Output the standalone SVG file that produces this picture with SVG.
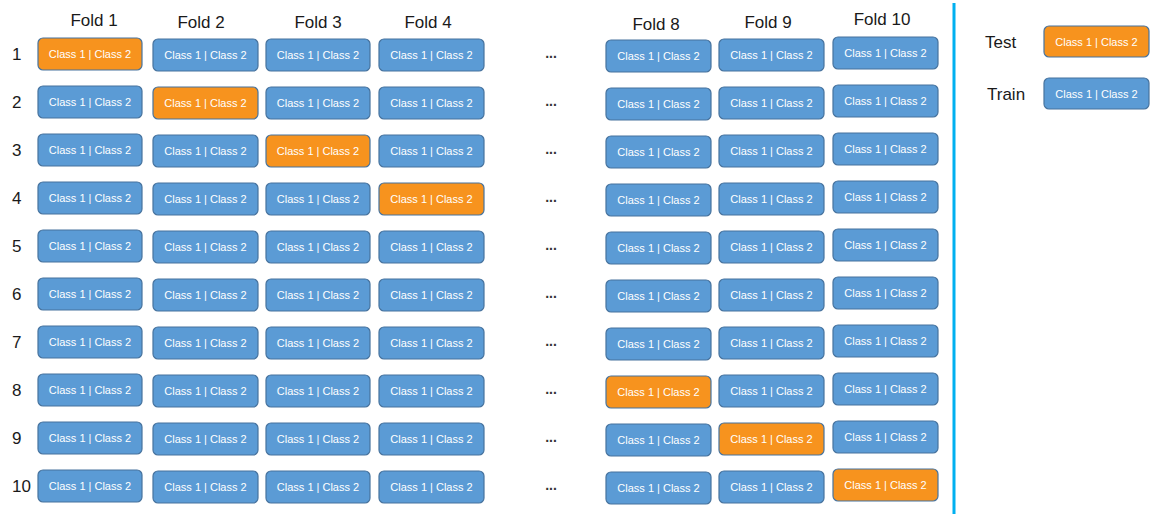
<svg xmlns="http://www.w3.org/2000/svg" width="1150" height="514" viewBox="0 0 1150 514">
  <style>
    .lbl { font-family: "Liberation Sans", Arial, sans-serif; font-size: 17px; fill: #1a1a1a; }
    .hdr { text-anchor: middle; }
    .dots { font-family: "Liberation Sans", Arial, sans-serif; font-size: 14px; font-weight: bold; fill: #333; text-anchor: middle; }
    .box rect { fill: #5B9BD5; stroke: #47739E; stroke-width: 1.2; }
    .box.test rect { fill: #F7931E; }
    .box text { font-family: "Liberation Sans", Arial, sans-serif; font-size: 11px; fill: #ffffff; text-anchor: middle; }
  </style>

  <!-- fold headers -->
  <g id="headers" class="lbl hdr">
    <text x="94" y="26">Fold 1</text>
    <text x="201" y="28">Fold 2</text>
    <text x="318" y="28">Fold 3</text>
    <text x="428" y="28">Fold 4</text>
    <text x="656" y="30">Fold 8</text>
    <text x="768" y="28">Fold 9</text>
    <text x="882" y="25">Fold 10</text>
  </g>

  <!-- iteration numbers -->
  <g id="rows" class="lbl">
    <text x="12" y="60">1</text>
    <text x="12" y="108">2</text>
    <text x="12" y="156">3</text>
    <text x="12" y="204">4</text>
    <text x="12" y="252">5</text>
    <text x="12" y="300">6</text>
    <text x="12" y="348">7</text>
    <text x="12" y="396">8</text>
    <text x="12" y="444">9</text>
    <text x="12" y="492">10</text>
  </g>

  <!-- elided folds 5-7 -->
  <g id="ellipsis" class="dots">
    <text x="551" y="58">...</text>
    <text x="551" y="106">...</text>
    <text x="551" y="154">...</text>
    <text x="551" y="202">...</text>
    <text x="551" y="250">...</text>
    <text x="551" y="298">...</text>
    <text x="551" y="346">...</text>
    <text x="551" y="394">...</text>
    <text x="551" y="442">...</text>
    <text x="551" y="490">...</text>
  </g>

  <!-- row 1 -->
  <g id="r1f1" class="box test" transform="translate(38,38)"><rect width="104" height="32" rx="5"/><text x="52" y="20">Class 1 | Class 2</text></g>
  <g id="r1f2" class="box" transform="translate(153,39)"><rect width="105" height="32" rx="5"/><text x="52.5" y="20">Class 1 | Class 2</text></g>
  <g id="r1f3" class="box" transform="translate(266,39)"><rect width="104" height="32" rx="5"/><text x="52" y="20">Class 1 | Class 2</text></g>
  <g id="r1f4" class="box" transform="translate(379,39)"><rect width="105" height="32" rx="5"/><text x="52.5" y="20">Class 1 | Class 2</text></g>
  <g id="r1f8" class="box" transform="translate(606,40)"><rect width="105" height="32" rx="5"/><text x="52.5" y="20">Class 1 | Class 2</text></g>
  <g id="r1f9" class="box" transform="translate(719,39)"><rect width="105" height="32" rx="5"/><text x="52.5" y="20">Class 1 | Class 2</text></g>
  <g id="r1f10" class="box" transform="translate(833,37)"><rect width="105" height="32" rx="5"/><text x="52.5" y="20">Class 1 | Class 2</text></g>

  <!-- row 2 -->
  <g id="r2f1" class="box" transform="translate(38,86)"><rect width="104" height="32" rx="5"/><text x="52" y="20">Class 1 | Class 2</text></g>
  <g id="r2f2" class="box test" transform="translate(153,87)"><rect width="105" height="32" rx="5"/><text x="52.5" y="20">Class 1 | Class 2</text></g>
  <g id="r2f3" class="box" transform="translate(266,87)"><rect width="104" height="32" rx="5"/><text x="52" y="20">Class 1 | Class 2</text></g>
  <g id="r2f4" class="box" transform="translate(379,87)"><rect width="105" height="32" rx="5"/><text x="52.5" y="20">Class 1 | Class 2</text></g>
  <g id="r2f8" class="box" transform="translate(606,88)"><rect width="105" height="32" rx="5"/><text x="52.5" y="20">Class 1 | Class 2</text></g>
  <g id="r2f9" class="box" transform="translate(719,87)"><rect width="105" height="32" rx="5"/><text x="52.5" y="20">Class 1 | Class 2</text></g>
  <g id="r2f10" class="box" transform="translate(833,85)"><rect width="105" height="32" rx="5"/><text x="52.5" y="20">Class 1 | Class 2</text></g>

  <!-- row 3 -->
  <g id="r3f1" class="box" transform="translate(38,134)"><rect width="104" height="32" rx="5"/><text x="52" y="20">Class 1 | Class 2</text></g>
  <g id="r3f2" class="box" transform="translate(153,135)"><rect width="105" height="32" rx="5"/><text x="52.5" y="20">Class 1 | Class 2</text></g>
  <g id="r3f3" class="box test" transform="translate(266,135)"><rect width="104" height="32" rx="5"/><text x="52" y="20">Class 1 | Class 2</text></g>
  <g id="r3f4" class="box" transform="translate(379,135)"><rect width="105" height="32" rx="5"/><text x="52.5" y="20">Class 1 | Class 2</text></g>
  <g id="r3f8" class="box" transform="translate(606,136)"><rect width="105" height="32" rx="5"/><text x="52.5" y="20">Class 1 | Class 2</text></g>
  <g id="r3f9" class="box" transform="translate(719,135)"><rect width="105" height="32" rx="5"/><text x="52.5" y="20">Class 1 | Class 2</text></g>
  <g id="r3f10" class="box" transform="translate(833,133)"><rect width="105" height="32" rx="5"/><text x="52.5" y="20">Class 1 | Class 2</text></g>

  <!-- row 4 -->
  <g id="r4f1" class="box" transform="translate(38,182)"><rect width="104" height="32" rx="5"/><text x="52" y="20">Class 1 | Class 2</text></g>
  <g id="r4f2" class="box" transform="translate(153,183)"><rect width="105" height="32" rx="5"/><text x="52.5" y="20">Class 1 | Class 2</text></g>
  <g id="r4f3" class="box" transform="translate(266,183)"><rect width="104" height="32" rx="5"/><text x="52" y="20">Class 1 | Class 2</text></g>
  <g id="r4f4" class="box test" transform="translate(379,183)"><rect width="105" height="32" rx="5"/><text x="52.5" y="20">Class 1 | Class 2</text></g>
  <g id="r4f8" class="box" transform="translate(606,184)"><rect width="105" height="32" rx="5"/><text x="52.5" y="20">Class 1 | Class 2</text></g>
  <g id="r4f9" class="box" transform="translate(719,183)"><rect width="105" height="32" rx="5"/><text x="52.5" y="20">Class 1 | Class 2</text></g>
  <g id="r4f10" class="box" transform="translate(833,181)"><rect width="105" height="32" rx="5"/><text x="52.5" y="20">Class 1 | Class 2</text></g>

  <!-- row 5 -->
  <g id="r5f1" class="box" transform="translate(38,230)"><rect width="104" height="32" rx="5"/><text x="52" y="20">Class 1 | Class 2</text></g>
  <g id="r5f2" class="box" transform="translate(153,231)"><rect width="105" height="32" rx="5"/><text x="52.5" y="20">Class 1 | Class 2</text></g>
  <g id="r5f3" class="box" transform="translate(266,231)"><rect width="104" height="32" rx="5"/><text x="52" y="20">Class 1 | Class 2</text></g>
  <g id="r5f4" class="box" transform="translate(379,231)"><rect width="105" height="32" rx="5"/><text x="52.5" y="20">Class 1 | Class 2</text></g>
  <g id="r5f8" class="box" transform="translate(606,232)"><rect width="105" height="32" rx="5"/><text x="52.5" y="20">Class 1 | Class 2</text></g>
  <g id="r5f9" class="box" transform="translate(719,231)"><rect width="105" height="32" rx="5"/><text x="52.5" y="20">Class 1 | Class 2</text></g>
  <g id="r5f10" class="box" transform="translate(833,229)"><rect width="105" height="32" rx="5"/><text x="52.5" y="20">Class 1 | Class 2</text></g>

  <!-- row 6 -->
  <g id="r6f1" class="box" transform="translate(38,278)"><rect width="104" height="32" rx="5"/><text x="52" y="20">Class 1 | Class 2</text></g>
  <g id="r6f2" class="box" transform="translate(153,279)"><rect width="105" height="32" rx="5"/><text x="52.5" y="20">Class 1 | Class 2</text></g>
  <g id="r6f3" class="box" transform="translate(266,279)"><rect width="104" height="32" rx="5"/><text x="52" y="20">Class 1 | Class 2</text></g>
  <g id="r6f4" class="box" transform="translate(379,279)"><rect width="105" height="32" rx="5"/><text x="52.5" y="20">Class 1 | Class 2</text></g>
  <g id="r6f8" class="box" transform="translate(606,280)"><rect width="105" height="32" rx="5"/><text x="52.5" y="20">Class 1 | Class 2</text></g>
  <g id="r6f9" class="box" transform="translate(719,279)"><rect width="105" height="32" rx="5"/><text x="52.5" y="20">Class 1 | Class 2</text></g>
  <g id="r6f10" class="box" transform="translate(833,277)"><rect width="105" height="32" rx="5"/><text x="52.5" y="20">Class 1 | Class 2</text></g>

  <!-- row 7 -->
  <g id="r7f1" class="box" transform="translate(38,326)"><rect width="104" height="32" rx="5"/><text x="52" y="20">Class 1 | Class 2</text></g>
  <g id="r7f2" class="box" transform="translate(153,327)"><rect width="105" height="32" rx="5"/><text x="52.5" y="20">Class 1 | Class 2</text></g>
  <g id="r7f3" class="box" transform="translate(266,327)"><rect width="104" height="32" rx="5"/><text x="52" y="20">Class 1 | Class 2</text></g>
  <g id="r7f4" class="box" transform="translate(379,327)"><rect width="105" height="32" rx="5"/><text x="52.5" y="20">Class 1 | Class 2</text></g>
  <g id="r7f8" class="box" transform="translate(606,328)"><rect width="105" height="32" rx="5"/><text x="52.5" y="20">Class 1 | Class 2</text></g>
  <g id="r7f9" class="box" transform="translate(719,327)"><rect width="105" height="32" rx="5"/><text x="52.5" y="20">Class 1 | Class 2</text></g>
  <g id="r7f10" class="box" transform="translate(833,325)"><rect width="105" height="32" rx="5"/><text x="52.5" y="20">Class 1 | Class 2</text></g>

  <!-- row 8 -->
  <g id="r8f1" class="box" transform="translate(38,374)"><rect width="104" height="32" rx="5"/><text x="52" y="20">Class 1 | Class 2</text></g>
  <g id="r8f2" class="box" transform="translate(153,375)"><rect width="105" height="32" rx="5"/><text x="52.5" y="20">Class 1 | Class 2</text></g>
  <g id="r8f3" class="box" transform="translate(266,375)"><rect width="104" height="32" rx="5"/><text x="52" y="20">Class 1 | Class 2</text></g>
  <g id="r8f4" class="box" transform="translate(379,375)"><rect width="105" height="32" rx="5"/><text x="52.5" y="20">Class 1 | Class 2</text></g>
  <g id="r8f8" class="box test" transform="translate(606,376)"><rect width="105" height="32" rx="5"/><text x="52.5" y="20">Class 1 | Class 2</text></g>
  <g id="r8f9" class="box" transform="translate(719,375)"><rect width="105" height="32" rx="5"/><text x="52.5" y="20">Class 1 | Class 2</text></g>
  <g id="r8f10" class="box" transform="translate(833,373)"><rect width="105" height="32" rx="5"/><text x="52.5" y="20">Class 1 | Class 2</text></g>

  <!-- row 9 -->
  <g id="r9f1" class="box" transform="translate(38,422)"><rect width="104" height="32" rx="5"/><text x="52" y="20">Class 1 | Class 2</text></g>
  <g id="r9f2" class="box" transform="translate(153,423)"><rect width="105" height="32" rx="5"/><text x="52.5" y="20">Class 1 | Class 2</text></g>
  <g id="r9f3" class="box" transform="translate(266,423)"><rect width="104" height="32" rx="5"/><text x="52" y="20">Class 1 | Class 2</text></g>
  <g id="r9f4" class="box" transform="translate(379,423)"><rect width="105" height="32" rx="5"/><text x="52.5" y="20">Class 1 | Class 2</text></g>
  <g id="r9f8" class="box" transform="translate(606,424)"><rect width="105" height="32" rx="5"/><text x="52.5" y="20">Class 1 | Class 2</text></g>
  <g id="r9f9" class="box test" transform="translate(719,423)"><rect width="105" height="32" rx="5"/><text x="52.5" y="20">Class 1 | Class 2</text></g>
  <g id="r9f10" class="box" transform="translate(833,421)"><rect width="105" height="32" rx="5"/><text x="52.5" y="20">Class 1 | Class 2</text></g>

  <!-- row 10 -->
  <g id="r10f1" class="box" transform="translate(38,470)"><rect width="104" height="32" rx="5"/><text x="52" y="20">Class 1 | Class 2</text></g>
  <g id="r10f2" class="box" transform="translate(153,471)"><rect width="105" height="32" rx="5"/><text x="52.5" y="20">Class 1 | Class 2</text></g>
  <g id="r10f3" class="box" transform="translate(266,471)"><rect width="104" height="32" rx="5"/><text x="52" y="20">Class 1 | Class 2</text></g>
  <g id="r10f4" class="box" transform="translate(379,471)"><rect width="105" height="32" rx="5"/><text x="52.5" y="20">Class 1 | Class 2</text></g>
  <g id="r10f8" class="box" transform="translate(606,472)"><rect width="105" height="32" rx="5"/><text x="52.5" y="20">Class 1 | Class 2</text></g>
  <g id="r10f9" class="box" transform="translate(719,471)"><rect width="105" height="32" rx="5"/><text x="52.5" y="20">Class 1 | Class 2</text></g>
  <g id="r10f10" class="box test" transform="translate(833,469)"><rect width="105" height="32" rx="5"/><text x="52.5" y="20">Class 1 | Class 2</text></g>

  <!-- separator between grid and legend -->
  <g id="connectors">
    <line x1="954" y1="3" x2="954" y2="514" stroke="#00B0F0" stroke-width="3"/>
  </g>

  <!-- legend -->
  <g id="legend-test">
    <text class="lbl" x="985" y="48">Test</text>
    <g class="box test" transform="translate(1044,26)"><rect width="105" height="31" rx="5"/><text x="52.5" y="19.5">Class 1 | Class 2</text></g>
  </g>
  <g id="legend-train">
    <text class="lbl" x="987" y="100">Train</text>
    <g class="box" transform="translate(1044,78)"><rect width="105" height="31" rx="5"/><text x="52.5" y="19.5">Class 1 | Class 2</text></g>
  </g>
</svg>
